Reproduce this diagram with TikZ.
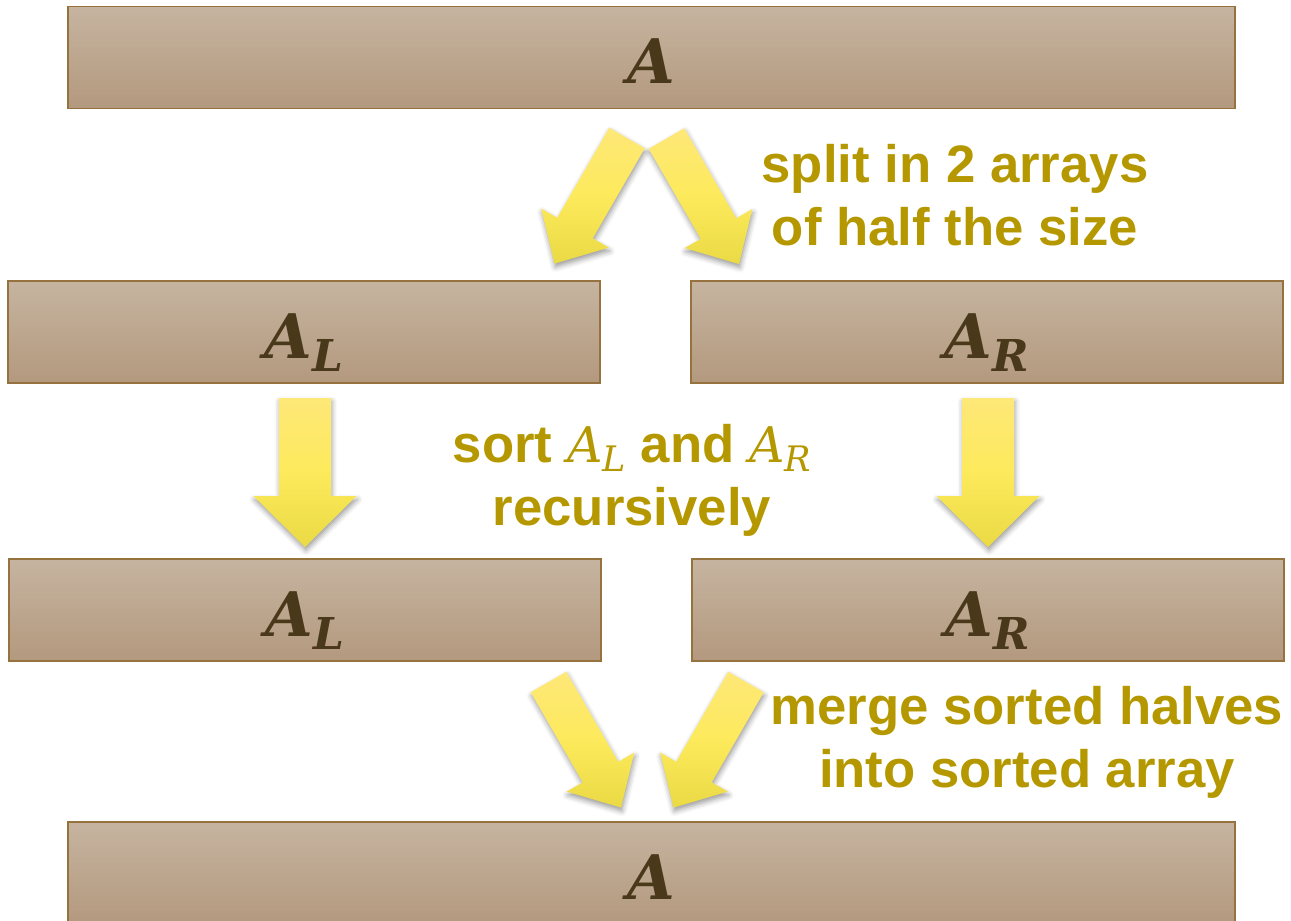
\documentclass[tikz,border=0pt]{standalone}
\usepackage{fontspec}
\newfontfamily\lblfont{Liberation Sans}
\newfontfamily\symfont{DejaVu Serif}
\usetikzlibrary{shadows.blur}

\definecolor{boxtop}{RGB}{198,180,160}
\definecolor{boxbot}{RGB}{179,153,126}
\definecolor{boxline}{RGB}{150,115,62}
\definecolor{arrtop}{RGB}{254,232,120}
\definecolor{arrmid}{RGB}{253,234,92}
\definecolor{arrbot}{RGB}{234,218,68}
\definecolor{lbl}{RGB}{181,152,0}
\definecolor{sym}{RGB}{74,56,26}

% array name with an optional subscript, big (in boxes) or inline (in text)
\newcommand\bigarr[1]{{\symfont\bfseries\itshape\fontsize{35}{42}\selectfont A\raisebox{-7.4pt}{\fontsize{25}{25}\selectfont #1}}}
\newcommand\smallarr[1]{{\symfont\mdseries\itshape\fontsize{28}{34}\selectfont A\raisebox{-5.5pt}{\fontsize{20}{20}\selectfont #1}}}

\tikzset{
  arraybox/.style={draw=boxline, line width=1.1pt, top color=boxtop, bottom color=boxbot,
    inner sep=0pt, minimum height=2.04cm, text height=1.04cm, text depth=0pt,
    text=sym},
  halfbox/.style={arraybox, minimum width=11.84cm},
  fullbox/.style={arraybox, minimum width=23.34cm},
  steptext/.style={text=lbl, align=center, inner sep=0pt,
    font=\lblfont\bfseries\fontsize{30}{36}\selectfont},
  arrowbody/.style={top color=arrtop, bottom color=arrbot, middle color=arrmid,
    blur shadow={shadow xshift=0.5pt, shadow yshift=-2pt, shadow blur radius=3pt, shadow opacity=40}},
  pics/blockarrow/.style n args={4}{code={
    \path[arrowbody] (0,-#2) -- ({#1-#4},-#2) -- ({#1-#4},-#3) -- (#1,0)
      -- ({#1-#4},#3) -- ({#1-#4},#2) -- (0,#2) -- cycle;
  }},
}

\begin{document}
\begin{tikzpicture}[x=0.02cm, y=-0.02cm]
  \useasboundingbox (0,0) rectangle (1291,920);
  \clip (0,0) rectangle (1291,920);

  % arrays
  \node[fullbox] (top)    at (651.5,57.5) {\bigarr{}};
  \node[halfbox] (left1)  at (304,332)    {\bigarr{L}};
  \node[halfbox] (right1) at (987,332)    {\bigarr{R}};
  \node[halfbox] (left2)  at (305,610)    {\bigarr{L}};
  \node[halfbox] (right2) at (988,610)    {\bigarr{R}};
  \node[fullbox] (bottom) at (651.5,873)  {\bigarr{}};

  % split arrows
  \pic[rotate=240] at (627,138)     {blockarrow={145}{20.5}{39}{41}};
  \pic[rotate=300] at (666.5,138.5) {blockarrow={145}{20.5}{39}{41}};

  % recursion arrows
  \pic[rotate=270] at (305,398) {blockarrow={149}{26}{51.5}{51}};
  \pic[rotate=270] at (988,398) {blockarrow={149}{26}{51.5}{51}};

  % merge arrows
  \pic[rotate=300] at (548.5,682) {blockarrow={145}{20.5}{39}{41}};
  \pic[rotate=240] at (746,682)   {blockarrow={145}{20.5}{39}{41}};

  % step descriptions
  \node[steptext] (split) at (955,195) {split in 2 arrays\\of half the size};
  \node[steptext] (sort)  at (632,480) {sort \smallarr{L} and \smallarr{R}\\recursively};
  \node[steptext] (merge) at (1027,742) {merge sorted halves\\into sorted array};
\end{tikzpicture}
\end{document}
